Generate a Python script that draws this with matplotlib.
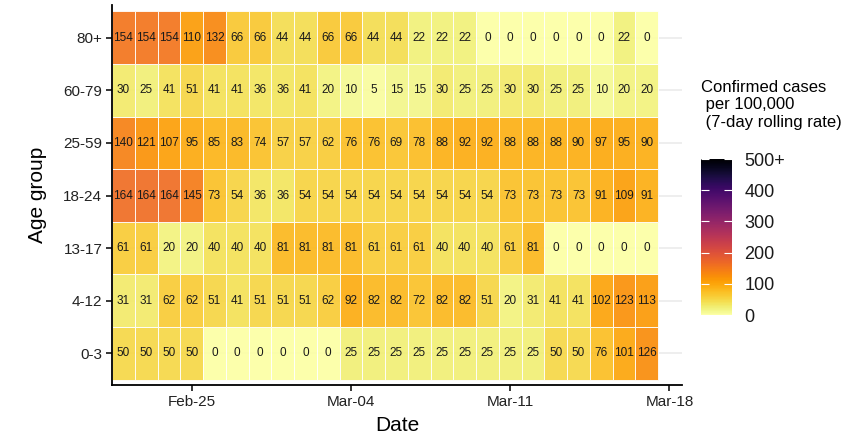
import numpy as np
import pandas as pd
import matplotlib
matplotlib.use("Agg")
import matplotlib.pyplot as plt
import matplotlib.dates as mdates
from matplotlib.colors import Normalize

plt.rcParams['font.family'] = ['Liberation Sans', 'DejaVu Sans']

dates = pd.date_range("2021-02-22", periods=24, freq="D")
age_groups = ["0-3", "4-12", "13-17", "18-24", "25-59", "60-79", "80+"]

r_0_3 = [50, 50, 50, 50, 0, 0, 0, 0, 0, 0, 25, 25, 25, 25, 25, 25, 25, 25, 25, 50, 50, 76, 101, 126]
r_4_12 = [31, 31, 62, 62, 51, 41, 51, 51, 51, 62, 92, 82, 82, 72, 82, 82, 51, 20, 31, 41, 41, 102, 123, 113]
r_13_17 = [61, 61, 20, 20, 40, 40, 40, 81, 81, 81, 81, 61, 61, 61, 40, 40, 40, 61, 81, 0, 0, 0, 0, 0]
r_18_24 = [164, 164, 164, 145, 73, 54, 36, 36, 54, 54, 54, 54, 54, 54, 54, 54, 54, 73, 73, 73, 73, 91, 109, 91]
r_25_59 = [140, 121, 107, 95, 85, 83, 74, 57, 57, 62, 76, 76, 69, 78, 88, 92, 92, 88, 88, 88, 90, 97, 95, 90]
r_60_79 = [30, 25, 41, 51, 41, 41, 36, 36, 41, 20, 10, 5, 15, 15, 30, 25, 25, 30, 30, 25, 25, 10, 20, 20]
r_80p = [154, 154, 154, 110, 132, 66, 66, 44, 44, 66, 66, 44, 44, 22, 22, 22, 0, 0, 0, 0, 0, 0, 22, 0]

tick_dates = ["2021-02-25", "2021-03-04", "2021-03-11", "2021-03-18"]
cbar_ticks = [0, 100, 200, 300, 400, 500]
cbar_labels = ["0", "100", "200", "300", "400", "500+"]

values = np.array([r_0_3, r_4_12, r_13_17, r_18_24, r_25_59, r_60_79, r_80p], dtype=float)

fig = plt.figure(figsize=(8.52, 4.40), dpi=100)
ax = fig.add_axes([112/852, 1-385/440, (682-112)/852, (385-5)/440])

xnum = mdates.date2num(dates)
xedges = np.concatenate([xnum - 0.5, [xnum[-1] + 0.5]])
yedges = np.arange(len(age_groups) + 1) - 0.5

cmap = plt.get_cmap("inferno_r")
norm = Normalize(vmin=0, vmax=500)

for i in range(len(age_groups)):
    ax.axhline(i, color="#EBEBEB", lw=1.2, zorder=0)

ax.pcolormesh(xedges, yedges, values, cmap=cmap, norm=norm,
              edgecolor="white", linewidth=0.6, alpha=0.92, zorder=1)

for i in range(len(age_groups)):
    for j in range(len(dates)):
        ax.text(xnum[j], i, f"{int(values[i, j])}", ha="center", va="center",
                fontsize=8.5, color="#1a1a1a", zorder=3)

ax.set_xlim(xnum[0] - 0.5, mdates.date2num(pd.Timestamp(tick_dates[-1])) + 0.55)
ax.set_ylim(-0.6, len(age_groups) - 0.38)
ax.set_yticks(range(len(age_groups)))
ax.set_yticklabels(age_groups, fontsize=11, color="#222222")
tk = mdates.date2num(pd.to_datetime(tick_dates))
ax.set_xticks(tk)
ax.set_xticklabels([pd.Timestamp(t).strftime("%b-%d") for t in tick_dates], fontsize=11, color="#222222")

for s in ["top", "right"]:
    ax.spines[s].set_visible(False)
for s in ["left", "bottom"]:
    ax.spines[s].set_linewidth(1.3)
    ax.spines[s].set_color("black")
ax.tick_params(axis="both", length=4, width=1.1, color="black", pad=3)

ax.set_xlabel("Date", fontsize=15, labelpad=5)
ax.set_ylabel("Age group", fontsize=15, labelpad=12)

cax = fig.add_axes([701/852, 1-315/440, 31/852, 156/440])
sm = matplotlib.cm.ScalarMappable(norm=norm, cmap=cmap)
cb = fig.colorbar(sm, cax=cax)
cb.outline.set_visible(False)
cb.set_ticks(cbar_ticks)
cb.set_ticklabels(cbar_labels)
cax.tick_params(axis="y", direction="in", length=6, width=0.8, color="white",
                left=True, right=True, labelsize=13, pad=9)
cax.tick_params(axis="y", which="both", labelcolor="#1a1a1a")
fig.text(701/852, 1-105/440, "Confirmed cases\n per 100,000\n (7-day rolling rate)",
         fontsize=12, ha="left", va="center", linespacing=1.2)

fig.savefig("out.png", dpi=100)
